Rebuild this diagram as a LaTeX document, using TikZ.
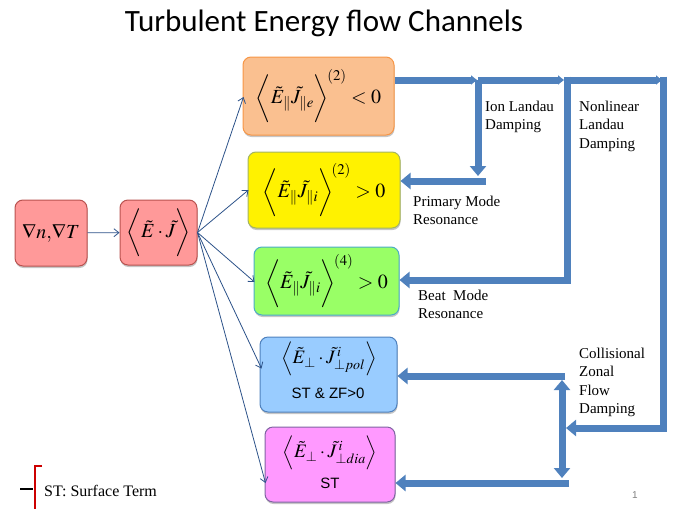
\documentclass[tikz,border=0pt]{standalone}
\usepackage{amsmath}
\usepackage{mathptmx}
\usepackage[no-math]{fontspec}
\setmainfont{Liberation Serif}
\newfontfamily\calibri{Carlito}
\newfontfamily\arialf{Liberation Sans}
\usetikzlibrary{arrows.meta,shadows,calc}
\definecolor{thick}{HTML}{4F81BD}
\definecolor{thin}{HTML}{2C5289}
\definecolor{pinkf}{HTML}{FF9999}
\definecolor{pinkd}{HTML}{B9524F}
\definecolor{orangef}{HTML}{FAC090}
\definecolor{oranged}{HTML}{F79646}
\definecolor{yellowd}{HTML}{A3B463}
\definecolor{greenf}{HTML}{99FF66}
\definecolor{greend}{HTML}{4BACC6}
\definecolor{bluef}{HTML}{99CCFF}
\definecolor{blued}{HTML}{4F81BD}
\definecolor{magf}{HTML}{FF99FF}
\definecolor{magd}{HTML}{8064A2}
\tikzset{
  box/.style={rounded corners=8pt, line width=1pt, inner sep=1pt, align=center,
    drop shadow={shadow xshift=0.5pt, shadow yshift=-2pt, opacity=0.45}},
  thinarr/.style={draw=thin, line width=0.8pt, -{Straight Barb[length=5pt,width=8pt]}},
  fat/.style={draw=thick, line width=7pt},
  fatarr/.style={fat, -{Triangle[length=10pt,width=16pt]}},
  fatbi/.style={fat, {Triangle[length=10pt,width=16pt]}-{Triangle[length=10pt,width=16pt]}},
  smalltip/.style={fat, -{Triangle[length=6pt,width=9pt]}},
  lbl/.style={anchor=base west, align=left, font=\fontsize{15}{18.5}\selectfont, inner sep=0pt},
  mathf/.style={font=\fontsize{20}{24}\selectfont},
  inner/.style={inner sep=0pt, anchor=center},
}
\begin{document}
\begin{tikzpicture}[x=1pt,y=-1pt]
\useasboundingbox (0,0) rectangle (690,509);
\node[inner sep=0pt, anchor=base] (title) at (324,31) {\calibri\fontsize{31}{36}\selectfont Turbulent Energy flow Channels};
% boxes
\node[box, fill=pinkf, draw=pinkd, minimum width=72pt, minimum height=66pt, mathf] (grad) at (51,233) {$\nabla n,\!\nabla T$};
\node[box, fill=pinkf, draw=pinkd, minimum width=77pt, minimum height=65pt, mathf] (ej) at (158.5,232.5) {$\bigg\langle \tilde{E}\cdot\tilde{J}\bigg\rangle$};
\node[box, fill=orangef, draw=oranged, minimum width=151pt, minimum height=78pt, mathf] (ele) at (318.5,96) {$\bigg\langle \tilde{E}_{\parallel}\tilde{J}_{\parallel e}\bigg\rangle^{\!(2)}<0$};
\node[box, fill=yellow, draw=yellowd, minimum width=152pt, minimum height=76pt, mathf] (prim) at (324,190) {$\bigg\langle \tilde{E}_{\parallel}\tilde{J}_{\parallel i}\bigg\rangle^{\!(2)}>0$};
\node[box, fill=greenf, draw=greend, minimum width=145pt, minimum height=68pt, mathf] (beat) at (326.5,281) {$\bigg\langle \tilde{E}_{\parallel}\tilde{J}_{\parallel i}\bigg\rangle^{\!(4)}>0$};
\node[box, fill=bluef, draw=blued, minimum width=137pt, minimum height=75pt] (pol) at (328.5,374.5) {};
\node[box, fill=magf, draw=magd, minimum width=130pt, minimum height=75pt] (dia) at (330,464.5) {};
\node[inner, font=\fontsize{19}{22}\selectfont] (polm) at (329,359) {$\Big\langle \tilde{E}_{\perp}\cdot\tilde{J}^{\,i}_{\perp pol}\Big\rangle$};
\node[inner, font=\arialf\fontsize{15}{17}\selectfont] (polt) at (328,393) {ST \& ZF>0};
\node[inner, font=\fontsize{19}{22}\selectfont] (diam) at (330,453) {$\Big\langle \tilde{E}_{\perp}\cdot\tilde{J}^{\,i}_{\perp dia}\Big\rangle$};
\node[inner, font=\arialf\fontsize{15}{17}\selectfont] (diat) at (330,483) {ST};
% thin arrows
\draw[thinarr] (grad) -- (ej);
\draw[thinarr] (ej.east) -- ($(ele.west)+(1,1)$);
\draw[thinarr] (ej.east) -- ($(prim.west)+(1,0)$);
\draw[thinarr] (ej.east) -- ($(beat.west)+(1,1)$);
\draw[thinarr] (ej.east) -- ($(pol.west)+(2,-6)$);
\draw[thinarr] (ej.east) -- ($(dia.west)+(1,18.5)$);
% thick flow
\coordinate (j1) at (478,80);
\coordinate (j2) at (567,80);
\coordinate (j3) at (663,80);
\coordinate (d1) at (478,176);
\coordinate (c2) at (567,280);
\coordinate (c3) at (663,428);
\coordinate (e3) at (566,428);
\coordinate (v1) at (562,380);
\coordinate (v2) at (562,478);
\coordinate (h1) at (565,376);
\coordinate (h2) at (569,483);
\coordinate (h0) at (486,181);
\draw[smalltip] (ele.east |- j1) -- ($(j1)+(-1,0)$);
\draw[smalltip] (j1) -- ($(j2)+(-3,0)$);
\draw[smalltip] (j2) -- ($(j3)+(-1,0)$);
\draw[fatarr] (j1) -- (d1);
\draw[fatarr] (h0) -- (prim.east |- h0);
\draw[fat] ($(j2)+(0,-3.5)$) -- (c2);
\draw[fatarr] ($(c2)+(3.5,0)$) -- (beat.east |- c2);
\draw[fat] ($(j3)+(0,-3.5)$) -- (c3);
\draw[fatarr] ($(c3)+(3.5,0)$) -- (e3);
\draw[fatbi] (v1) -- (v2);
\draw[fatarr] (h1) -- (pol.east |- h1);
\draw[fatarr] (h2) -- (dia.east |- h2);
% labels
\node[lbl] (l1) at (485,129.5) {Ion Landau\\Damping};
\node[lbl] (l2) at (579,148) {Nonlinear\\Landau\\Damping};
\node[lbl] (l3) at (413,224.5) {Primary Mode\\Resonance};
\node[lbl] (l4) at (418,318.5) {Beat\ \ Mode\\Resonance};
\node[lbl] (l5) at (579,413.5) {Collisional\\Zonal\\Flow\\Damping};
\node[inner sep=0pt, anchor=base west, text=gray, font=\arialf\fontsize{10}{12}\selectfont] (pg) at (632,498) {1};
% legend
\coordinate (b1) at (42,466);
\coordinate (b2) at (35,466);
\coordinate (b3) at (35,509);
\draw[black, line width=2.5pt] (20,489) -- (33,489);
\draw[red!80!black, line width=2.5pt] (b1) -- (b2) -- (b3);
\node[inner sep=0pt, anchor=base west, font=\fontsize{16}{19}\selectfont] (st) at (44,496) {ST: Surface Term};
\end{tikzpicture}
\end{document}
